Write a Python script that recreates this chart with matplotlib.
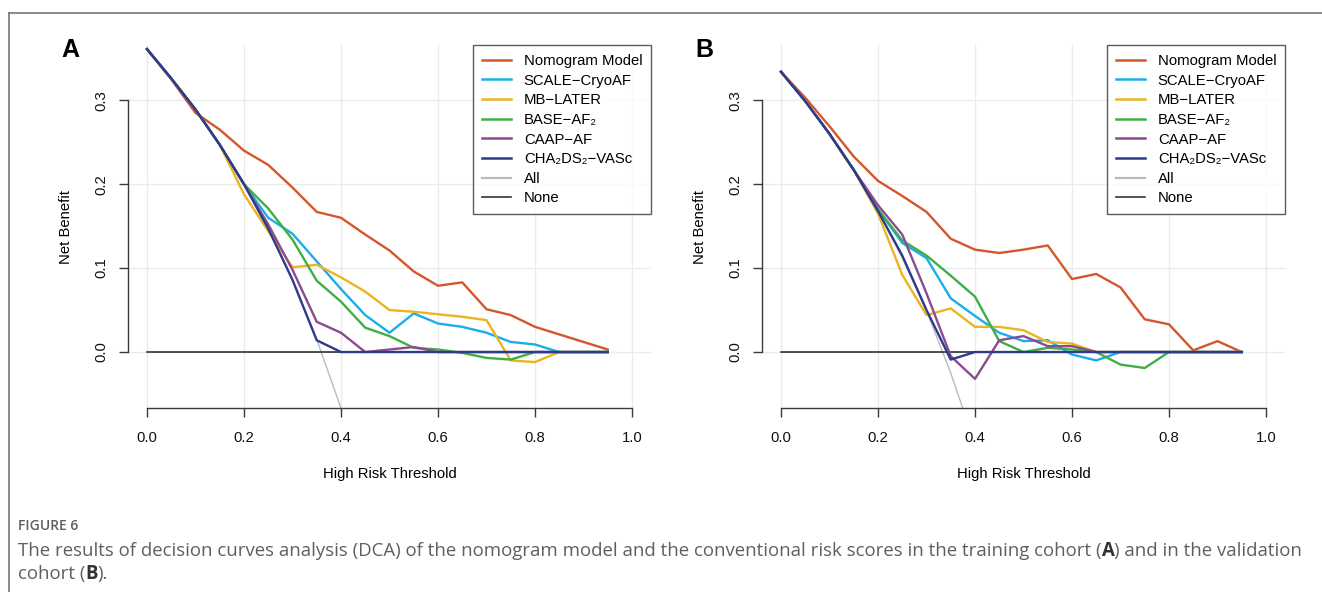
import matplotlib
matplotlib.use('Agg')
import matplotlib.pyplot as plt
from matplotlib.lines import Line2D

plt.rcParams['font.family'] = ['Liberation Sans', 'DejaVu Sans']

# thresholds used by the decision curves
thresholds = [0.00, 0.05, 0.10, 0.15, 0.20, 0.25, 0.30, 0.35, 0.40, 0.45,
              0.50, 0.55, 0.60, 0.65, 0.70, 0.75, 0.80, 0.85, 0.90, 0.95]

labels = ['Nomogram Model', 'SCALE\u2212CryoAF', 'MB\u2212LATER',
          'BASE\u2212AF\u2082', 'CAAP\u2212AF', 'CHA\u2082DS\u2082\u2212VASc']
colors = ['#D6562B', '#19AEEA', '#EBB520', '#3FAE45', '#8A4B90', '#2D3A8E']

# panel A - training cohort
nomo_a = [0.361, 0.325, 0.285, 0.265, 0.240, 0.223, 0.196, 0.167, 0.160, 0.140,
          0.121, 0.096, 0.079, 0.083, 0.051, 0.044, 0.030, 0.021, 0.012, 0.003]
scale_a = [0.361, 0.326, 0.289, 0.247, 0.200, 0.160, 0.141, 0.108, 0.075, 0.044,
           0.023, 0.046, 0.034, 0.030, 0.023, 0.012, 0.009, 0.000, 0.000, 0.000]
mb_a = [0.361, 0.326, 0.289, 0.247, 0.188, 0.144, 0.101, 0.104, 0.089, 0.072,
        0.050, 0.048, 0.045, 0.042, 0.038, -0.010, -0.012, 0.000, 0.000, 0.000]
base_a = [0.361, 0.326, 0.289, 0.247, 0.200, 0.171, 0.134, 0.085, 0.060, 0.029,
          0.019, 0.005, 0.003, -0.001, -0.007, -0.009, 0.000, 0.000, 0.000, 0.000]
caap_a = [0.361, 0.326, 0.289, 0.247, 0.200, 0.152, 0.098, 0.036, 0.023, 0.000,
          0.003, 0.006, 0.000, 0.000, 0.000, 0.000, 0.000, 0.000, 0.000, 0.000]
cha_a = [0.361, 0.326, 0.289, 0.247, 0.200, 0.147, 0.086, 0.014, 0.000, 0.000,
         0.000, 0.000, 0.000, 0.000, 0.000, 0.000, 0.000, 0.000, 0.000, 0.000]
all_a = [0.360, 0.326, 0.289, 0.247, 0.200, 0.147, 0.086, 0.015, -0.067]

# panel B - validation cohort
nomo_b = [0.334, 0.303, 0.269, 0.233, 0.204, 0.186, 0.167, 0.135, 0.122, 0.118,
          0.122, 0.127, 0.087, 0.093, 0.077, 0.039, 0.033, 0.002, 0.013, 0.000]
scale_b = [0.334, 0.299, 0.260, 0.217, 0.170, 0.130, 0.112, 0.064, 0.043, 0.023,
           0.013, 0.014, -0.003, -0.010, 0.000, 0.000, 0.000, 0.000, 0.000, 0.000]
mb_b = [0.334, 0.299, 0.260, 0.217, 0.165, 0.092, 0.044, 0.052, 0.030, 0.030,
        0.026, 0.012, 0.010, 0.000, 0.000, 0.000, 0.000, 0.000, 0.000, 0.000]
base_b = [0.334, 0.299, 0.260, 0.217, 0.170, 0.133, 0.115, 0.091, 0.066, 0.013,
          0.000, 0.005, 0.003, 0.000, -0.015, -0.019, 0.000, 0.000, 0.000, 0.000]
caap_b = [0.334, 0.299, 0.260, 0.217, 0.175, 0.140, 0.070, -0.005, -0.032, 0.014,
          0.019, 0.007, 0.007, 0.000, 0.000, 0.000, 0.000, 0.000, 0.000, 0.000]
cha_b = [0.334, 0.299, 0.260, 0.217, 0.168, 0.115, 0.050, -0.009, 0.000, 0.000,
         0.000, 0.000, 0.000, 0.000, 0.000, 0.000, 0.000, 0.000, 0.000, 0.000]
all_b = [0.334, 0.299, 0.260, 0.217, 0.168, 0.112, 0.049, -0.025, -0.110]

none_vals = [0.0, 0.0, 0.0, 0.0, 0.0, 0.0, 0.0, 0.0, 0.0, 0.0,
             0.0, 0.0, 0.0, 0.0, 0.0, 0.0, 0.0, 0.0, 0.0, 0.0]

W, H = 1322, 592
fig = plt.figure(figsize=(W / 100, H / 100), dpi=100)

fs = 10.7
axis_col = '#3a3a3a'


def draw_panel(rect, curves, all_vals, letter):
    ax = fig.add_axes(rect)
    ax.set_xlim(-0.04, 1.04)
    ax.set_ylim(-0.0667, 0.3659)
    ax.set_xticks([0.0, 0.2, 0.4, 0.6, 0.8, 1.0])
    ax.set_yticks([0.0, 0.1, 0.2, 0.3])
    ax.set_xticklabels(['0.0', '0.2', '0.4', '0.6', '0.8', '1.0'])
    ax.set_yticklabels(['0.0', '0.1', '0.2', '0.3'], rotation=90, va='center')
    ax.grid(True, color='#EBEBEB', lw=1.0, zorder=0)
    ax.set_axisbelow(True)
    for s in ['top', 'right']:
        ax.spines[s].set_visible(False)
    ax.spines['left'].set_bounds(0, 0.3)
    ax.spines['bottom'].set_bounds(0, 1)
    for s in ['left', 'bottom']:
        ax.spines[s].set_color(axis_col)
        ax.spines[s].set_linewidth(1.0)
    ax.tick_params(axis='both', length=6.5, width=1.0, color=axis_col,
                   labelsize=fs, labelcolor='#111111')
    ax.tick_params(axis='x', pad=10)
    ax.tick_params(axis='y', pad=7)

    ax.plot(thresholds[:len(all_vals)], all_vals, color='#BBBBBB', lw=1.0, zorder=2)
    ax.plot(thresholds, none_vals, color='#222222', lw=1.1, zorder=2)
    for vals, c in zip(curves, colors):
        ax.plot(thresholds, vals, color=c, lw=1.7, zorder=3)

    ax.set_xlabel('High Risk Threshold', fontsize=fs, labelpad=16)
    ax.set_ylabel('Net Benefit', fontsize=fs, labelpad=16)

    handles = [Line2D([], [], color=c, lw=1.8) for c in colors]
    handles.append(Line2D([], [], color='#BBBBBB', lw=1.6))
    handles.append(Line2D([], [], color='#333333', lw=1.2))
    leg = ax.legend(handles, labels + ['All', 'None'], loc='upper right',
                    bbox_to_anchor=(1.0, 1.0), borderaxespad=0.0, fontsize=fs,
                    frameon=True, fancybox=False, borderpad=0.6,
                    labelspacing=0.38, handlelength=1.95, handletextpad=0.85)
    leg.get_frame().set_edgecolor('#333333')
    leg.get_frame().set_linewidth(1.0)

    x0 = rect[0] * W
    fig.text((x0 - 57.6) / W, 1 - 50 / H, letter, fontsize=18, fontweight='bold',
             ha='center', va='center')
    return ax


rect_a = [127.6 / W, (H - 408) / H, 523.8 / W, 363 / H]
rect_b = [761.6 / W, (H - 408) / H, 523.8 / W, 363 / H]
draw_panel(rect_a, [nomo_a, scale_a, mb_a, base_a, caap_a, cha_a], all_a, 'A')
draw_panel(rect_b, [nomo_b, scale_b, mb_b, base_b, caap_b, cha_b], all_b, 'B')

# frame around figure
fig.add_artist(Line2D([9 / W, 1.0], [1 - 13 / H, 1 - 13 / H], color='#777777', lw=1.2))
fig.add_artist(Line2D([9 / W, 9 / W], [0.0, 1 - 13 / H], color='#777777', lw=1.2))

# caption
cap_col = '#5f5f5f'
cap_font = ['Open Sans', 'DejaVu Sans']
fig.text(18 / W, 1 - 526 / H, 'FIGURE 6', fontsize=10, family=cap_font,
         fontweight='semibold', color=cap_col, ha='left', va='center')


def caption_line(y, parts):
    # pieces are chained one after another so the panel letters can be bold
    prev = None
    for txt, bold in parts:
        kw = dict(fontsize=13.4, family=cap_font, color='#333333' if bold else cap_col,
                  fontweight='bold' if bold else 'normal', va='center', ha='left')
        if prev is None:
            prev = fig.text(18 / W, 1 - y / H, txt, **kw)
        else:
            prev = fig.add_artist(matplotlib.text.Annotation(
                txt, xy=(1, 0.5), xycoords=prev, **kw))


caption_line(551, [('The results of decision curves analysis (DCA) of the nomogram model and the '
                    'conventional risk scores in the training cohort (', False), ('A', True),
                   (') and in the validation', False)])
caption_line(574, [('cohort (', False), ('B', True), (').', False)])

fig.savefig('out.png', dpi=100)
